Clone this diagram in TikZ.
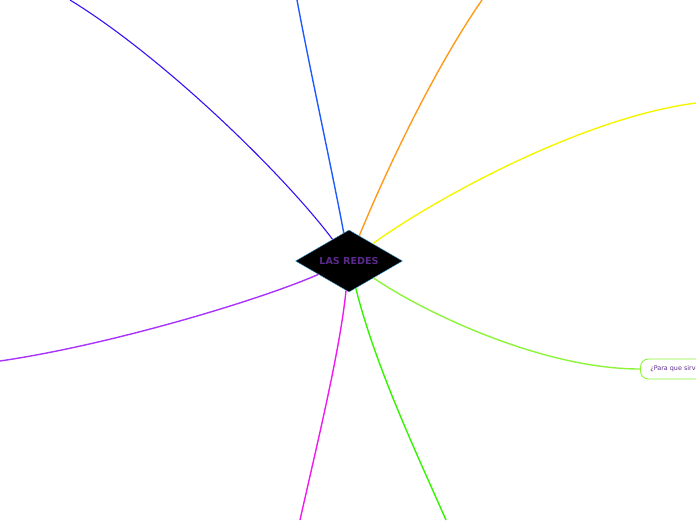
\documentclass[tikz,border=0pt]{standalone}
\usepackage{fontspec}
\setmainfont{DejaVu Sans}
\usetikzlibrary{shapes.geometric, arrows}
\usetikzlibrary{positioning}

\definecolor{rootblue}{HTML}{3A9BD0}
\definecolor{textpurple}{HTML}{5B2A8C}
\definecolor{branchindigo}{HTML}{3A10F5}
\definecolor{branchblue}{HTML}{1F5AFF}
\definecolor{branchorange}{HTML}{FF9A1A}
\definecolor{branchyellow}{HTML}{F5F500}
\definecolor{branchlime}{HTML}{8CF53A}
\definecolor{branchgreen}{HTML}{33F500}
\definecolor{branchmagenta}{HTML}{F01AF0}
\definecolor{branchpurple}{HTML}{AA33FF}

\begin{document}
\begin{tikzpicture}[x=1pt, y=-1pt]
        \tikzstyle{topic} = [diamond, aspect=1.73, minimum width=107pt, minimum height=62pt, inner sep=0pt, fill=black, draw=rootblue, text=textpurple, font=\bfseries\fontsize{9.6}{11}\selectfont]
        \tikzstyle{subtopic} = [rectangle, rounded corners=8pt, minimum height=20pt, inner xsep=10pt, draw=branchlime, line width=0.9pt, text=textpurple, font=\fontsize{6.4}{7}\selectfont]
        \tikzstyle{branch} = [line width=1.4pt]
        \useasboundingbox (0,0) rectangle (696,520);

        \node[topic] (redes) at (349,261) {LAS REDES};
        \node[subtopic, anchor=west] (uses) at (640,369) {¿Para que sirven?};

        \coordinate (upLeft) at (70,0);
        \coordinate (upMid) at (297,0);
        \coordinate (upRight) at (482,0);
        \coordinate (right) at (696,103);
        \coordinate (downRight) at (446,520);
        \coordinate (downLeft) at (300,520);
        \coordinate (left) at (0,361);

        %upper branches
        \draw[branch, branchindigo, line width=1.1pt] (redes) .. controls (280,170) and (160,55) .. (upLeft);
        \draw[branch, branchblue] (redes) .. controls (332,170) and (310,70) .. (upMid);
        \draw[branch, branchorange] (redes) .. controls (380,185) and (430,75) .. (upRight);
        \draw[branch, branchyellow] (redes) .. controls (430,202) and (580,118) .. (right);

        %lower branches
        \draw[branch, branchlime] (redes) .. controls (420,310) and (540,369) .. (uses);
        \draw[branch, branchgreen] (redes) .. controls (375,365) and (415,450) .. (downRight);
        \draw[branch, branchmagenta] (redes) .. controls (340,350) and (318,440) .. (downLeft);
        \draw[branch, branchpurple] (redes) .. controls (260,300) and (110,345) .. (left);
    \end{tikzpicture}
\end{document}
